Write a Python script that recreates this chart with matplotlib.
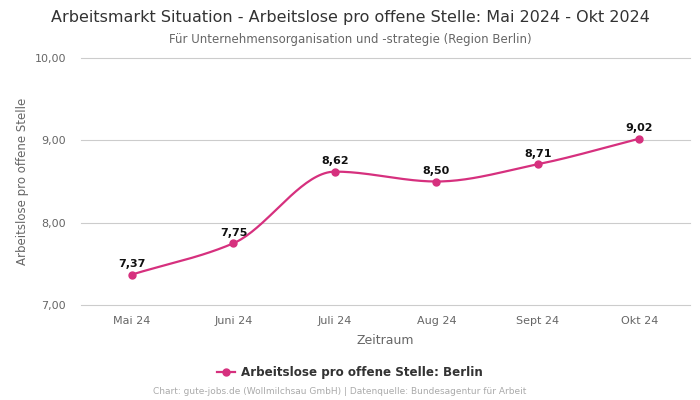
import numpy as np
import matplotlib
matplotlib.use("Agg")
import matplotlib.pyplot as plt

months = ["Mai 24", "Juni 24", "Juli 24", "Aug 24", "Sept 24", "Okt 24"]
values = [7.37, 7.75, 8.62, 8.50, 8.71, 9.02]
yticks = [7.0, 8.0, 9.0, 10.0]

line_color = "#d6307e"
grey = "#666666"


def monotone_curve(x, y, n=40):
    # Fritsch-Carlson monotone cubic, nur fuer die geglaettete Linie
    x = np.asarray(x, float)
    y = np.asarray(y, float)
    h = np.diff(x)
    d = np.diff(y) / h
    m = np.zeros_like(y)
    m[0], m[-1] = d[0], d[-1]
    for i in range(1, len(y) - 1):
        if d[i - 1] * d[i] <= 0:
            m[i] = 0
        else:
            w1 = 2 * h[i] + h[i - 1]
            w2 = h[i] + 2 * h[i - 1]
            m[i] = (w1 + w2) / (w1 / d[i - 1] + w2 / d[i])
    xs, ys = [], []
    for i in range(len(x) - 1):
        t = np.linspace(0, 1, n)
        h00 = 2 * t**3 - 3 * t**2 + 1
        h10 = t**3 - 2 * t**2 + t
        h01 = -2 * t**3 + 3 * t**2
        h11 = t**3 - t**2
        xs.append(x[i] + t * h[i])
        ys.append(h00 * y[i] + h10 * h[i] * m[i] + h01 * y[i + 1] + h11 * h[i] * m[i + 1])
    return np.concatenate(xs), np.concatenate(ys)


fig = plt.figure(figsize=(7, 4), dpi=100)
ax = fig.add_axes([0.116, 0.2375, 0.87, 0.6175])

xpos = np.arange(len(months))
cx, cy = monotone_curve(xpos, values)
ax.plot(cx, cy, color=line_color, lw=1.6, zorder=3)
ax.plot(xpos, values, "o", color=line_color, ms=5, zorder=4,
        label="Arbeitslose pro offene Stelle: Berlin")

for x, v in zip(xpos, values):
    ax.annotate(f"{v:.2f}".replace(".", ","), (x, v), xytext=(0, 4),
                textcoords="offset points", ha="center", va="bottom",
                fontsize=8, fontweight="bold", color="#111111")

ax.set_xlim(-0.5, len(months) - 0.5)
ax.set_ylim(7.0, 10.0)
ax.set_xticks(xpos)
ax.set_xticklabels(months)
ax.set_yticks(yticks)
ax.set_yticklabels([f"{t:.2f}".replace(".", ",") for t in yticks])
ax.tick_params(axis="both", length=0, labelsize=8, colors=grey, pad=8)
ax.tick_params(axis="y", pad=11)
ax.grid(axis="y", color="#cccccc", lw=0.8)
for gl in ax.get_ygridlines():
    gl.set_clip_on(False)
ax.set_axisbelow(True)
for s in ax.spines.values():
    s.set_visible(False)

ax.set_xlabel("Zeitraum", fontsize=9, color=grey, labelpad=6)
ax.set_ylabel("Arbeitslose pro offene Stelle", fontsize=8.5, color=grey, labelpad=4)

fig.text(0.5, 0.957, "Arbeitsmarkt Situation - Arbeitslose pro offene Stelle: Mai 2024 - Okt 2024",
         ha="center", va="center", fontsize=11.5, color="#333333")
fig.text(0.5, 0.902, "Für Unternehmensorganisation und -strategie (Region Berlin)",
         ha="center", va="center", fontsize=8.5, color=grey)

leg = fig.legend(loc="center", bbox_to_anchor=(0.5, 0.068), frameon=False,
                 prop={"size": 8.6, "weight": "bold"}, handlelength=1.5,
                 handletextpad=0.5)
for t in leg.get_texts():
    t.set_color("#333333")
# Legende mit Linie durch den Marker
leg.legend_handles[0].set_linestyle("-")
leg.legend_handles[0].set_linewidth(1.6)

fig.text(0.485, 0.02, "Chart: gute-jobs.de (Wollmilchsau GmbH) | Datenquelle: Bundesagentur für Arbeit",
         ha="center", va="center", fontsize=6.5, color="#aaaaaa")

fig.savefig("out.png", dpi=100)
